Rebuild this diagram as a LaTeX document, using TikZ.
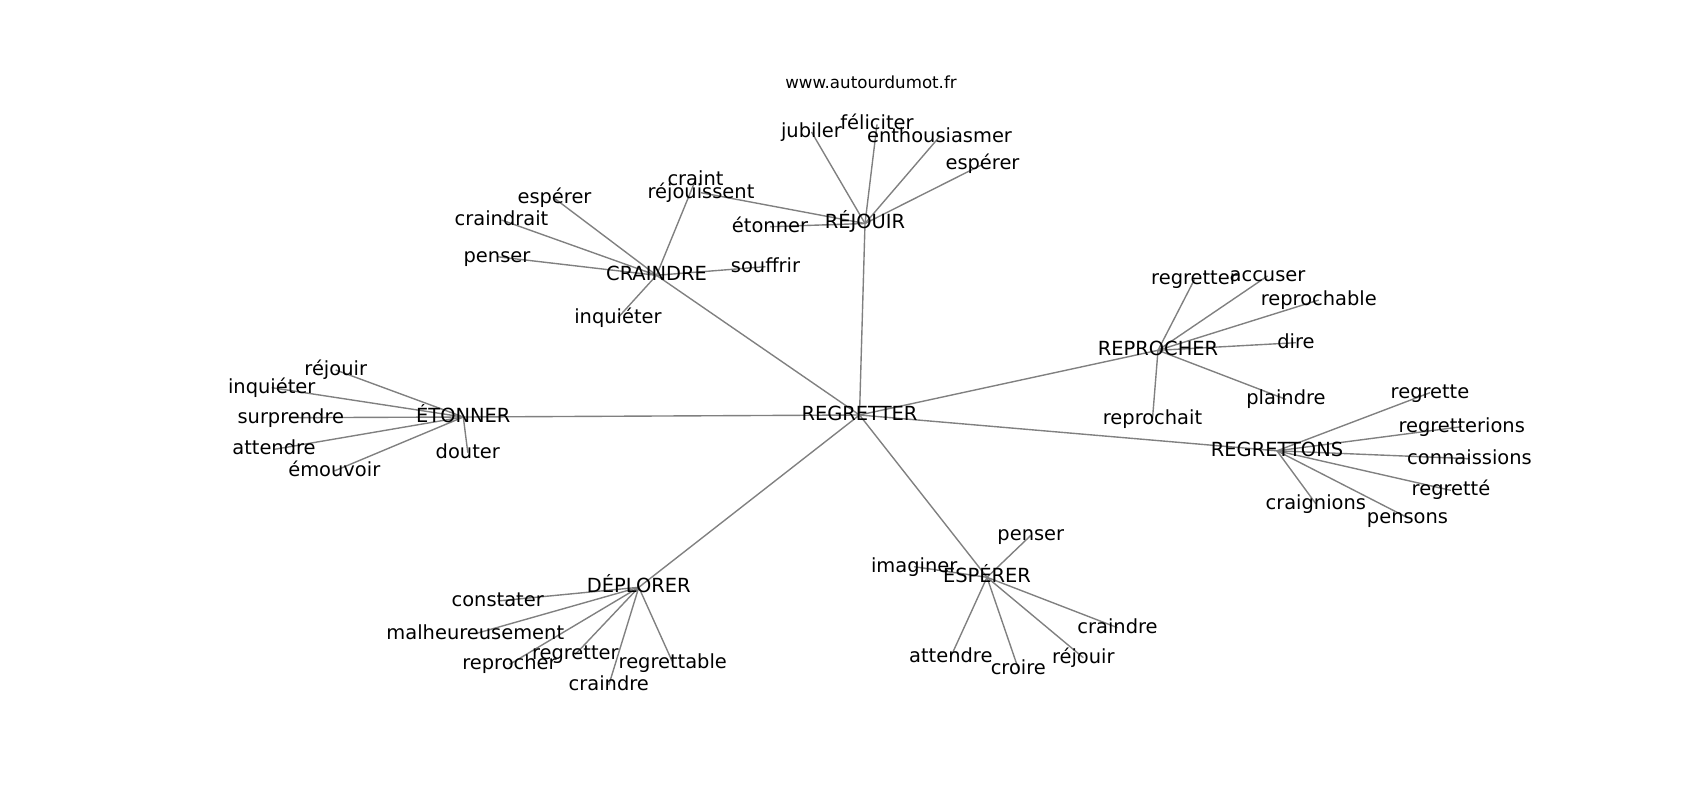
\documentclass[tikz,border=0pt]{standalone}
\usepackage{fontspec}
\setmainfont{DejaVu Sans}
\usetikzlibrary{backgrounds}
\definecolor{edgegray}{RGB}{128,128,128}
\begin{document}
\begin{tikzpicture}[x=0.72pt,y=-0.72pt,
  lbl/.style={inner sep=0pt, outer sep=0pt, text height=10.64pt, text depth=2.91pt, font=\fontsize{14pt}{16pt}\selectfont, anchor=center},
  leaf/.style={lbl, yshift=-1pt},
  ttl/.style={inner sep=0pt, outer sep=0pt, text height=9.12pt, text depth=2.5pt, font=\fontsize{12pt}{14pt}\selectfont, anchor=center},
  edge/.style={draw=edgegray, line width=1pt}]
\useasboundingbox (0,0) rectangle (1700,800);
\node[ttl] (title) at (871,83.5) {www.autourdumot.fr};
% hubs
\node[lbl] (regretter) at (859.5,415) {REGRETTER};
\node[lbl] (rejouir) at (865,223.5) {RÉJOUIR};
\node[lbl] (craindre) at (656.5,275.3) {CRAINDRE};
\node[lbl] (etonner) at (463.3,417) {ÉTONNER};
\node[lbl] (deplorer) at (638.8,587.3) {DÉPLORER};
\node[lbl] (esperer) at (987,577.3) {ESPÉRER};
\node[lbl] (regrettons) at (1277,450.8) {REGRETTONS};
\node[lbl] (reprocher) at (1158,350.3) {REPROCHER};
% rejouir leaves
\node[leaf] (jubiler) at (811.5,130.6) {jubiler};
\node[leaf] (feliciter) at (877,123) {féliciter};
\node[leaf] (enthousiasmer) at (939.5,135.3) {enthousiasmer};
\node[leaf] (espererR) at (982.5,163) {espérer};
\node[leaf] (rejouissent) at (701,191.3) {réjouissent};
\node[leaf] (etonnerR) at (770,225.3) {étonner};
% craindre leaves
\node[leaf] (craint) at (695.5,178.6) {craint};
\node[leaf] (espererC) at (554.5,197) {espérer};
\node[leaf] (craindrait) at (501.5,218.6) {craindrait};
\node[leaf] (penserC) at (497,255.3) {penser};
\node[leaf] (souffrir) at (765.5,265.3) {souffrir};
\node[leaf] (inquieterC) at (618,316.3) {inquiéter};
% etonner leaves
\node[leaf] (rejouirE) at (335.7,368.6) {réjouir};
\node[leaf] (inquieterE) at (271.7,386.3) {inquiéter};
\node[leaf] (surprendre) at (290.8,416.3) {surprendre};
\node[leaf] (attendreE) at (274,448) {attendre};
\node[leaf] (emouvoir) at (334.3,469.6) {émouvoir};
\node[leaf] (douter) at (467.8,451.3) {douter};
% reprocher leaves
\node[leaf] (regretterRP) at (1194.5,278) {regretter};
\node[leaf] (accuser) at (1267.5,274.6) {accuser};
\node[leaf] (reprochable) at (1318.8,298.6) {reprochable};
\node[leaf] (dire) at (1296,341.3) {dire};
\node[leaf] (plaindre) at (1286,398) {plaindre};
\node[leaf] (reprochait) at (1152.5,417.3) {reprochait};
% regrettons leaves
\node[leaf] (regrette) at (1430,391.3) {regrette};
\node[leaf] (regretterions) at (1461.7,425.3) {regretterions};
\node[leaf] (connaissions) at (1469.5,457.3) {connaissions};
\node[leaf] (regrettee) at (1451,489) {regretté};
\node[leaf] (craignions) at (1315.8,502.3) {craignions};
\node[leaf] (pensons) at (1407.5,516.3) {pensons};
% deplorer leaves
\node[leaf] (constater) at (497.7,599.6) {constater};
\node[leaf] (malheureusement) at (475.3,632.3) {malheureusement};
\node[leaf] (reprocherD) at (509.5,663) {reprocher};
\node[leaf] (regretterD) at (575.3,653) {regretter};
\node[leaf] (regrettable) at (672.8,661.3) {regrettable};
\node[leaf] (craindreD) at (608.8,683.6) {craindre};
% esperer leaves
\node[leaf] (penserES) at (1030.8,534) {penser};
\node[leaf] (imaginer) at (914.2,565.3) {imaginer};
\node[leaf] (craindreES) at (1117.5,626.3) {craindre};
\node[leaf] (attendreES) at (950.8,655.3) {attendre};
\node[leaf] (croire) at (1018.3,667.3) {croire};
\node[leaf] (rejouirES) at (1083.3,656.3) {réjouir};
\begin{pgfonlayer}{background}
\foreach \n in {rejouir,craindre,etonner,deplorer,esperer,regrettons,reprocher}
  \draw[edge] (regretter.center) -- (\n.center);
\foreach \n in {jubiler,feliciter,enthousiasmer,espererR,rejouissent,etonnerR}
  \draw[edge] (rejouir.center) -- (\n.center);
\foreach \n in {craint,espererC,craindrait,penserC,souffrir,inquieterC}
  \draw[edge] (craindre.center) -- (\n.center);
\foreach \n in {rejouirE,inquieterE,surprendre,attendreE,emouvoir,douter}
  \draw[edge] (etonner.center) -- (\n.center);
\foreach \n in {regretterRP,accuser,reprochable,dire,plaindre,reprochait}
  \draw[edge] (reprocher.center) -- (\n.center);
\foreach \n in {regrette,regretterions,connaissions,regrettee,craignions,pensons}
  \draw[edge] (regrettons.center) -- (\n.center);
\foreach \n in {constater,malheureusement,reprocherD,regretterD,regrettable,craindreD}
  \draw[edge] (deplorer.center) -- (\n.center);
\foreach \n in {penserES,imaginer,craindreES,attendreES,croire,rejouirES}
  \draw[edge] (esperer.center) -- (\n.center);
\end{pgfonlayer}
\end{tikzpicture}
\end{document}
